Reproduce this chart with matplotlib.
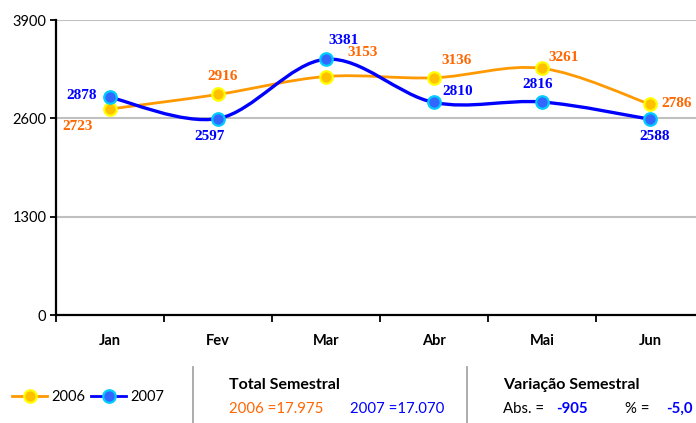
import numpy as np
import matplotlib
matplotlib.use("Agg")
import matplotlib.pyplot as plt
from matplotlib.path import Path
from matplotlib.patches import PathPatch
from matplotlib.lines import Line2D

# data
months = ["Jan", "Fev", "Mar", "Abr", "Mai", "Jun"]
vals_2006 = [2723, 2916, 3153, 3136, 3261, 2786]
vals_2007 = [2878, 2597, 3381, 2810, 2816, 2588]
y_ticks = [0, 1300, 2600, 3900]

# label offsets in pixels (dx, dy) relative to each point
off_2006 = [(-32, -17), (5, 18), (37, 24), (23, 17), (22, 11), (27, 1)]
off_2007 = [(-28, 2), (-8, -18), (18, 19), (24, 11), (-4, 17), (5, -17)]

ORANGE_LINE = "#FF9900"
ORANGE_TXT = "#FF6600"
BLUE = "#0000FF"


def smooth_path(xs, ys):
    # Excel-like smoothed line: cubic bezier through the points
    pts = np.column_stack([xs, ys]).astype(float)
    n = len(pts)
    verts = [pts[0]]
    codes = [Path.MOVETO]
    for i in range(n - 1):
        p0 = pts[max(i - 1, 0)]
        p1 = pts[i]
        p2 = pts[i + 1]
        p3 = pts[min(i + 2, n - 1)]
        c1 = p1 + (p2 - p0) / 6.0
        c2 = p2 - (p3 - p1) / 6.0
        verts += [c1, c2, p2]
        codes += [Path.CURVE4] * 3
    return Path(verts, codes)


plt.rcParams["font.family"] = ["Lato", "DejaVu Sans"]

fig = plt.figure(figsize=(6.96, 4.23), dpi=100)
ax = fig.add_axes([56 / 696, (423 - 315) / 423, 648 / 696, 295 / 423])

x = np.arange(len(months))

ax.add_patch(PathPatch(smooth_path(x, vals_2006), fill=False,
                       edgecolor=ORANGE_LINE, lw=2.0, zorder=3))
ax.add_patch(PathPatch(smooth_path(x, vals_2007), fill=False,
                       edgecolor=BLUE, lw=2.4, zorder=4))

ax.plot(x, vals_2006, ls="none", marker="o", ms=9, mfc="#FFC000",
        mec="#FFFF00", mew=1.6, zorder=5)
ax.plot(x, vals_2007, ls="none", marker="o", ms=9, mfc="#3366FF",
        mec="#00CCFF", mew=1.6, zorder=6)

for xi, v, (dx, dy) in zip(x, vals_2006, off_2006):
    ax.annotate(str(v), (xi, v), xytext=(dx, dy), textcoords="offset pixels",
                ha="center", va="center", color=ORANGE_TXT, fontsize=11,
                fontweight="bold", family="Liberation Serif", zorder=7)
for xi, v, (dx, dy) in zip(x, vals_2007, off_2007):
    ax.annotate(str(v), (xi, v), xytext=(dx, dy), textcoords="offset pixels",
                ha="center", va="center", color=BLUE, fontsize=11,
                fontweight="bold", family="Liberation Serif", zorder=7)

ax.set_xlim(-0.5, len(months) - 0.5)
ax.set_ylim(0, 3900)
ax.set_yticks(y_ticks)
ax.set_yticklabels([str(t) for t in y_ticks], fontsize=10.5)
for t in y_ticks[1:]:
    ax.axhline(t, color="#C0C0C0", lw=1.5, zorder=1)

ax.set_xticks(np.arange(-0.5, len(months)), labels=[])
ax.set_xticks(x, labels=months, minor=True)
ax.tick_params(axis="x", which="major", direction="out", length=5, width=1.3)
ax.tick_params(axis="x", which="minor", length=0, pad=14, labelsize=10.5)
for lab in ax.get_xticklabels(minor=True):
    lab.set_fontweight("bold")
ax.tick_params(axis="y", direction="out", length=4, width=1.3, pad=3)

for s in ["top", "right"]:
    ax.spines[s].set_visible(False)
for s in ["left", "bottom"]:
    ax.spines[s].set_linewidth(1.6)
    ax.spines[s].set_zorder(8)

# footer: legend
h06 = Line2D([], [], color=ORANGE_LINE, lw=2, marker="o", ms=9,
             mfc="#FFC000", mec="#FFFF00", mew=1.6)
h07 = Line2D([], [], color=BLUE, lw=2, marker="o", ms=9,
             mfc="#3366FF", mec="#00CCFF", mew=1.6)
fig.legend([h06, h07], ["2006", "2007"], loc="center left",
           bbox_to_anchor=(-1 / 696, 1 - 397 / 423), ncol=2, frameon=False,
           handlelength=2.4, handletextpad=0.3, columnspacing=0.4,
           fontsize=10.5)

# separators
for xs in [193, 467]:
    fig.add_artist(Line2D([xs / 696, xs / 696], [0, 1 - 367 / 423],
                          color="#A6A6A6", lw=1.3))


def ftext(px, py, s, **kw):
    fig.text(px / 696, 1 - py / 423, s, va="center", ha="left", **kw)


ftext(229, 385, "Total Semestral", fontsize=11.5, fontweight="bold")
ftext(229, 409, "2006 =17.975", fontsize=10.8, color=ORANGE_TXT)
ftext(350, 409, "2007 =17.070", fontsize=10.8, color=BLUE)
ftext(503, 385, "Variação Semestral", fontsize=11.5, fontweight="bold")
ftext(503, 409, "Abs. =", fontsize=10.8)
ftext(556, 409, "-905", fontsize=10.8, color=BLUE, fontweight="bold")
ftext(625, 409, "% =", fontsize=10.8)
ftext(666, 409, "-5,0", fontsize=10.8, color=BLUE, fontweight="bold")

fig.savefig("out.png", dpi=100)
